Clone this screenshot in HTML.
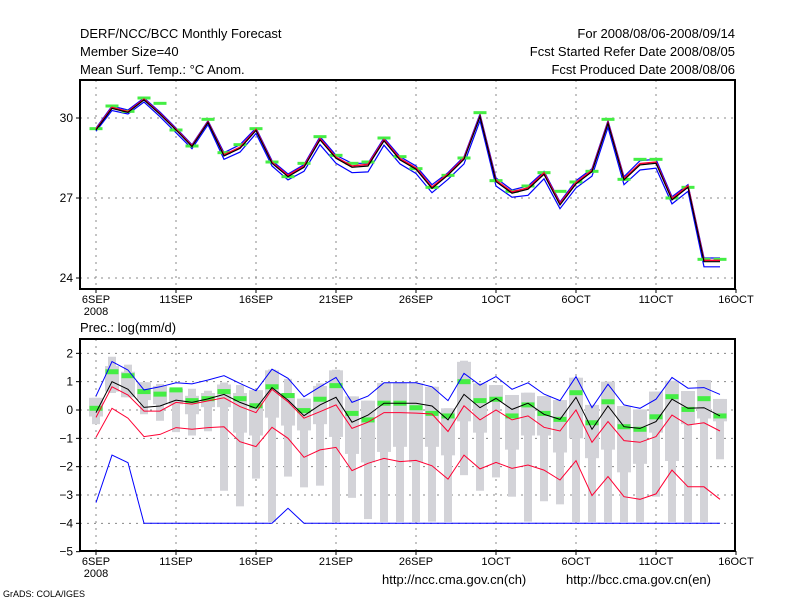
<!DOCTYPE html>
<html><head><meta charset="utf-8">
<style>
html,body{margin:0;padding:0;background:#fff;}
svg{display:block;font-family:"Liberation Sans",sans-serif;}
</style></head>
<body>
<svg id="c" width="800" height="600" viewBox="0 0 800 600">
<g font-size="13" fill="#000">
<text x="80" y="38">DERF/NCC/BCC Monthly Forecast</text>
<text x="80" y="56">Member Size=40</text>
<text x="80" y="74">Mean Surf. Temp.: °C Anom.</text>
<text x="735" y="38" text-anchor="end">For 2008/08/06-2008/09/14</text>
<text x="735" y="56" text-anchor="end">Fcst Started Refer Date 2008/08/05</text>
<text x="735" y="74" text-anchor="end">Fcst Produced Date 2008/08/06</text>
</g>
<text x="80" y="332" font-size="13">Prec.: log(mm/d)</text>
<text x="382" y="584" font-size="13">http://ncc.cma.gov.cn(ch)</text>
<text x="566" y="584" font-size="13">http://bcc.cma.gov.cn(en)</text>
<text x="3" y="597" font-size="9">GrADS: COLA/IGES</text>
<g id="topPanel"></g>
<g id="botPanel"></g>
</svg>
<script>
// ---- Top panel data (temperature) ----
const dayLabels = ["6SEP","11SEP","16SEP","21SEP","26SEP","1OCT","6OCT","11OCT","16OCT"];
const tTicks = [30,27,24];
const tMean = [29.55,30.36,30.21,30.68,30.14,29.55,28.93,29.83,28.58,28.86,29.53,28.3,27.8,28.15,29.18,28.49,28.15,28.2,29.14,28.43,28.08,27.36,27.86,28.45,30.05,27.61,27.18,27.33,27.89,26.74,27.53,27.99,29.8,27.68,28.24,28.3,26.93,27.4,24.61,24.61];
const tRed = [29.58,30.4,30.24,30.71,30.17,29.58,28.96,29.86,28.62,28.9,29.57,28.34,27.85,28.2,29.23,28.53,28.2,28.26,29.19,28.48,28.13,27.41,27.9,28.5,30.08,27.66,27.23,27.38,27.94,26.8,27.58,28.04,29.84,27.73,28.29,28.35,26.98,27.45,24.66,24.66];
const tHi = [29.62,30.45,30.3,30.75,30.22,29.62,29.0,29.9,28.7,29.0,29.62,28.4,27.9,28.25,29.3,28.6,28.3,28.3,29.25,28.55,28.2,27.5,27.95,28.55,30.15,27.75,27.3,27.45,28.0,26.85,27.65,28.1,29.9,27.8,28.4,28.45,27.05,27.5,24.75,24.75];
const tLo = [29.5,30.28,30.15,30.6,30.05,29.45,28.85,29.75,28.45,28.72,29.42,28.2,27.68,28.0,29.0,28.3,27.95,27.98,28.98,28.28,27.92,27.2,27.7,28.28,29.9,27.45,27.03,27.1,27.72,26.6,27.38,27.82,29.65,27.5,28.05,28.12,26.78,27.25,24.42,24.42];
const tObs = [29.6,30.45,30.25,30.75,30.55,29.55,28.95,29.95,28.7,29.0,29.6,28.35,27.8,28.3,29.3,28.6,28.3,28.35,29.25,28.55,28.1,27.4,27.85,28.5,30.2,27.65,27.25,27.45,27.95,27.25,27.6,28.0,29.95,27.7,28.45,28.45,27.0,27.4,24.7,24.7];

// ---- Bottom panel data (precip log) ----
const pTicks = [2,1,0,-1,-2,-3,-4,-5];
const pMax = [0.49,1.71,1.41,0.71,0.82,0.96,0.92,1.06,1.21,0.94,0.68,1.44,1.12,0.47,0.82,1.15,0.27,0.49,0.96,0.96,0.96,0.82,0.33,1.29,0.88,1.18,0.73,0.96,0.56,0.33,1.18,0.08,0.91,0.18,0.06,0.38,1.15,0.77,0.79,0.55];
const pUp = [-0.26,0.82,0.53,-0.04,-0.04,0.27,0.21,0.32,0.43,0.12,-0.09,0.73,0.29,-0.29,-0.06,0.18,-0.65,-0.43,-0.09,-0.09,-0.11,-0.14,-0.76,0.15,-0.35,0,-0.35,-0.21,-0.61,-0.74,0,-1.14,-0.41,-1.08,-1.14,-0.94,-0.18,-0.53,-0.45,-0.74];
const pMean = [-0.09,1.0,0.73,0.09,0.14,0.35,0.27,0.39,0.55,0.27,0.06,0.79,0.35,-0.2,0.18,0.45,-0.43,-0.18,0.24,0.24,0.24,0.14,-0.35,0.55,0.08,0.41,0.02,0.24,-0.15,-0.33,0.45,-0.68,0.14,-0.59,-0.65,-0.41,0.38,0.06,0.08,-0.21];
const pLow = [-0.96,0.06,-0.29,-0.94,-0.86,-0.62,-0.68,-0.62,-0.59,-1.12,-1.29,-0.61,-1.0,-1.67,-1.41,-1.32,-2.14,-1.88,-1.71,-1.82,-1.78,-1.97,-2.44,-1.59,-2.08,-1.85,-2.06,-1.94,-2.12,-2.47,-1.79,-3.02,-2.35,-3.06,-3.15,-2.96,-2.12,-2.71,-2.71,-3.15];
const pMin = [-3.27,-1.59,-1.86,-4,-4,-4,-4,-4,-4,-4,-4,-4,-3.47,-4,-4,-4,-4,-4,-4,-4,-4,-4,-4,-4,-4,-4,-4,-4,-4,-4,-4,-4,-4,-4,-4,-4,-4,-4,-4,-4];
const pObs = [0.06,1.35,1.21,0.65,0.56,0.71,0.33,0.4,0.65,0.4,0.15,0.82,0.51,-0.02,0.38,0.86,-0.12,-0.35,0.24,0.24,0.08,-0.12,-0.21,1.0,0.33,0.38,-0.21,0.18,-0.12,-0.33,0.61,-0.45,0.29,-0.59,-0.68,-0.24,0.47,0.02,0.4,-0.21];
const wTop = [0.43,1.88,1.6,0.98,0.92,0.75,0.75,0.68,0.97,0.88,0.7,1.43,1.1,0.4,0.94,1.42,0.48,0.33,0.95,0.95,0.94,0.82,0.06,1.74,0.94,0.88,0.53,0.61,0.49,0.35,1.14,0.18,1.0,0.14,0.02,0.65,1.03,0.67,1.06,0.39];
const bTop = [0.43,1.55,1.35,0.98,0.85,0.75,0.5,0.6,0.9,0.6,0.7,1.4,0.6,0.4,0.85,1.4,0.48,0.33,0.95,0.95,0.94,0.82,0.06,1.7,0.94,0.88,0.53,0.61,0.49,0.35,1.14,0.18,1.0,0.14,0.02,0.65,1.03,0.67,1.06,0.39];
const bBot = [-0.23,0.65,0.45,0.35,0.2,0.2,-0.15,0.1,0.1,-0.8,-0.9,-0.27,-0.55,-0.72,-0.5,-0.95,-1.55,-1.85,-1.48,-1.3,-1.85,-1.3,-1.6,-0.4,-0.8,0.3,-1.4,-0.9,-0.9,-1.5,-1.0,-1.7,-1.4,-2.2,-1.9,-0.8,-1.8,-0.5,-0.3,-0.4];
const wBot = [-0.5,0.6,0.45,-0.15,-0.38,-0.78,-0.9,-0.75,-2.85,-3.4,-2.42,-3.95,-2.35,-2.73,-2.67,-3.95,-3.1,-3.85,-3.95,-3.95,-3.95,-3.94,-3.95,-2.3,-2.85,-2.38,-3.06,-3.94,-3.22,-3.33,-3.95,-3.95,-3.95,-3.95,-3.95,-3.06,-3.95,-3.95,-3.95,-1.74];

const NS="http://www.w3.org/2000/svg";
function mk(parent,tag,attrs){const e=document.createElementNS(NS,tag);for(const k in attrs)e.setAttribute(k,attrs[k]);parent.appendChild(e);return e;}
const X0=96, DX=16, L=80, R=735;
const xDay = d => X0 + d*DX;
const yT = v => 118 + (30 - v)*80/3;
const yP = v => 410 - v*170/6;

function panel(g, top, bottom, ticks, yf, prefix){
  ticks.forEach(t=>{
    const y=yf(t);
    if (y < bottom-1) {
      const gl=mk(g,'line',{x1:L,x2:R,y1:y,y2:y,stroke:'#888','stroke-dasharray':'2,5','stroke-width':1});
      
      
    }
    const tk=mk(g,'line',{x1:L-4,x2:L,y1:y,y2:y,stroke:'#000'});
    
    
    const tx=mk(g,'text',{x:L-7,y:y+4,'text-anchor':'end','font-size':12});
    tx.textContent=String(t).replace('-','−');
    
    
  });
  dayLabels.forEach((lab,i)=>{
    const x=xDay(i*5);
    if (x < R-2) {
      const gl=mk(g,'line',{x1:x,x2:x,y1:top,y2:bottom,stroke:'#888','stroke-dasharray':'2,5'});
      
      
    }
    const tk=mk(g,'line',{x1:x,x2:x,y1:bottom,y2:bottom+4,stroke:'#000'});
    
    
    const tx=mk(g,'text',{x:x,y:bottom+14,'text-anchor':'middle','font-size':11});
    tx.textContent=lab;
    
    
  });
  const yr=mk(g,'text',{x:xDay(0),y:bottom+26,'text-anchor':'middle','font-size':11});
  yr.textContent='2008';
  
  
  const fr=mk(g,'rect',{x:L,y:top,width:R-L,height:bottom-top,fill:'none',stroke:'#000','stroke-width':2});
  
  
}
function line(g,arr,yf,color,name,w){
  const pts=arr.map((v,i)=>xDay(i)+','+yf(v).toFixed(1)).join(' ');
  const p=mk(g,'polyline',{points:pts,fill:'none',stroke:color,'stroke-width':w||1});
  
  
}
function obs(g,arr,yf,w,h,name){
  arr.forEach((v,i)=>{
    const r=mk(g,'rect',{x:xDay(i)-w/2,y:yf(v)-h/2,width:w,height:h,fill:'#44ee44'});
    
    
  });
}

const topG=document.getElementById('topPanel');
panel(topG,80,289,tTicks,yT,'temp');
line(topG,tLo,yT,'#0000ff','temp-min-line',1.2);
line(topG,tHi,yT,'#0000ff','temp-max-line',1.2);
obs(topG,tObs,yT,13,3,'temp-obs-mark');
line(topG,tRed,yT,'#ff0033','temp-percentile-line',1.5);
line(topG,tMean,yT,'#000','temp-mean-line',1.2);

const botG=document.getElementById('botPanel');
panel(botG,339,551,pTicks,yP,'precip');
wTop.forEach((v,i)=>{
  const x=xDay(i);
  const wr=mk(botG,'rect',{x:x-4,y:yP(v),width:8,height:yP(wBot[i])-yP(v),fill:'#d3d3d8'});
  
  
  const br=mk(botG,'rect',{x:x-7,y:yP(bTop[i]),width:14,height:yP(bBot[i])-yP(bTop[i]),fill:'#d3d3d8'});
  
  
});
obs(botG,pObs,yP,13,5,'precip-obs-mark');
line(botG,pMax,yP,'#0000ff','precip-max-line');
line(botG,pMin,yP,'#0000ff','precip-min-line');
line(botG,pUp,yP,'#ff0033','precip-upper-line');
line(botG,pLow,yP,'#ff0033','precip-lower-line');
line(botG,pMean,yP,'#000','precip-mean-line');
</script>
</body></html>
